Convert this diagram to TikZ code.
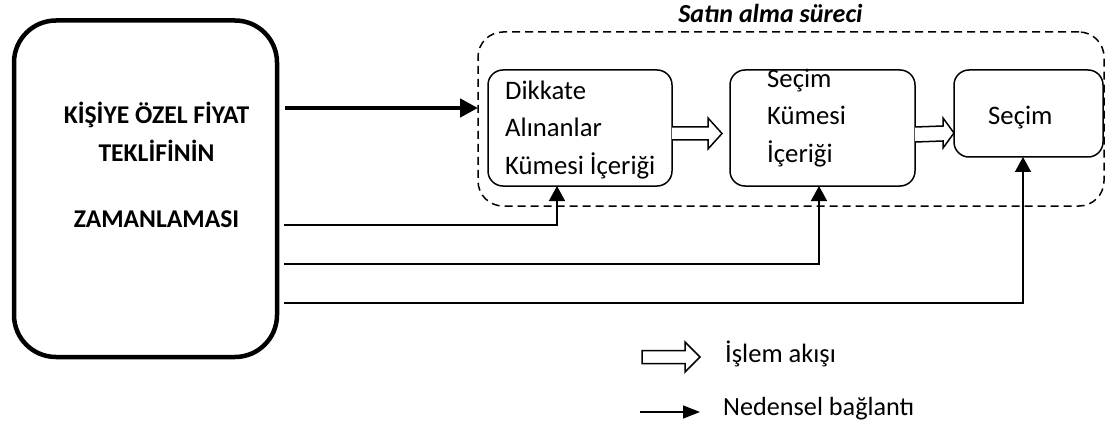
\documentclass[tikz,border=0pt]{standalone}
\usepackage{fontspec}
\setmainfont{Carlito}
\usetikzlibrary{arrows.meta,calc}
\begin{document}
\begin{tikzpicture}[x=1pt,y=-1pt,
  box/.style={draw, line width=1.5pt, rounded corners=15pt, inner sep=0pt, outer sep=0pt},
  txt/.style={inner sep=0pt, anchor=base west, font=\fontsize{26.7}{30}\selectfont},
  bigtxt/.style={inner sep=0pt, anchor=base, font=\fontsize{25.6}{30}\selectfont\bfseries},
  cause/.style={line width=1.5pt, -{Triangle[length=15pt,width=16pt]}},
  blk/.style={line width=1.5pt, line join=miter, fill=white},
]
\useasboundingbox (0,0) rectangle (1106,425);

% left block
\node[draw, line width=4.5pt, rounded corners=42pt, minimum width=263pt, minimum height=336.5pt, inner sep=0pt, outer sep=0pt] (big) at (145.5,188.75) {};
\node[bigtxt] (k1) at (156.5,124) {KİŞİYE ÖZEL FİYAT};
\node[bigtxt] (k2) at (156.5,162) {TEKLİFİNİN};
\node[bigtxt] (k3) at (156.5,227) {ZAMANLAMASI};

% purchase process frame
\node[draw, line width=1.5pt, dash pattern=on 8pt off 5pt, rounded corners=25pt, minimum width=626pt, minimum height=174pt, inner sep=0pt, outer sep=0pt] (proc) at (791,119) {};
\node[inner sep=0pt, anchor=base, font=\fontsize{26}{30}\selectfont\bfseries\itshape] (title) at (770.5,23) {Satın alma süreci};

% process boxes
\node[box, minimum width=184pt, minimum height=116pt] (b1) at (580,128) {};
\node[box, minimum width=185pt, minimum height=116pt] (b2) at (822.5,128) {};
\node[box, minimum width=149pt, minimum height=87pt] (b3) at (1028.5,113.5) {};

\node[txt] (t1a) at (505,100) {Dikkate};
\node[txt] (t1b) at (505,137) {Alınanlar};
\node[txt] (t1c) at (505,175) {Kümesi İçeriği};
\node[txt] (t2a) at (767,88) {Seçim};
\node[txt] (t2b) at (767,125) {Kümesi};
\node[txt] (t2c) at (767,163) {İçeriği};
\node[txt] (t3a) at (988,125) {Seçim};

% process flow (hollow) arrows
\draw[blk] (b1.east |- 0,127) -- (708,127) -- (708,118) -- (722,133.5) -- (708,149) -- (708,140) -- (b1.east |- 0,140);
\draw[blk] (b2.east |- 0,127) -- (943,126) -- (943,118) -- (954,133) -- (943,148) -- (943,141) -- (b2.east |- 0,142);

% thick causal arrow
\coordinate (s0) at (285,108);
\draw[line width=4.5pt, -{Triangle[length=18pt,width=18pt]}] (s0) -- (proc.west |- s0);

% causal connectors
\coordinate (s1) at (284,225);
\coordinate (s2) at (284,264);
\coordinate (s3) at (284,303);
\draw[cause] (s1) -| ([xshift=-23pt]b1.south);
\draw[cause] (s2) -| ([xshift=-3.5pt]b2.south);
\draw[cause] (s3) -| ([xshift=-5.5pt]b3.south);

% legend
\draw[blk] (642,350.5) -- (685,350.5) -- (685,342) -- (700,357) -- (685,372) -- (685,363.5) -- (642,363.5) -- cycle;
\node[txt, font=\fontsize{26.5}{30}\selectfont] (l1) at (725,362) {İşlem akışı};
\coordinate (l2s) at (640,412);
\coordinate (l2e) at (700,412);
\draw[line width=1.5pt, -{Triangle[length=17pt,width=13pt]}] (l2s) -- (l2e);
\node[txt, font=\fontsize{26.2}{30}\selectfont] (l2) at (723,415) {Nedensel bağlantı};
\end{tikzpicture}
\end{document}
